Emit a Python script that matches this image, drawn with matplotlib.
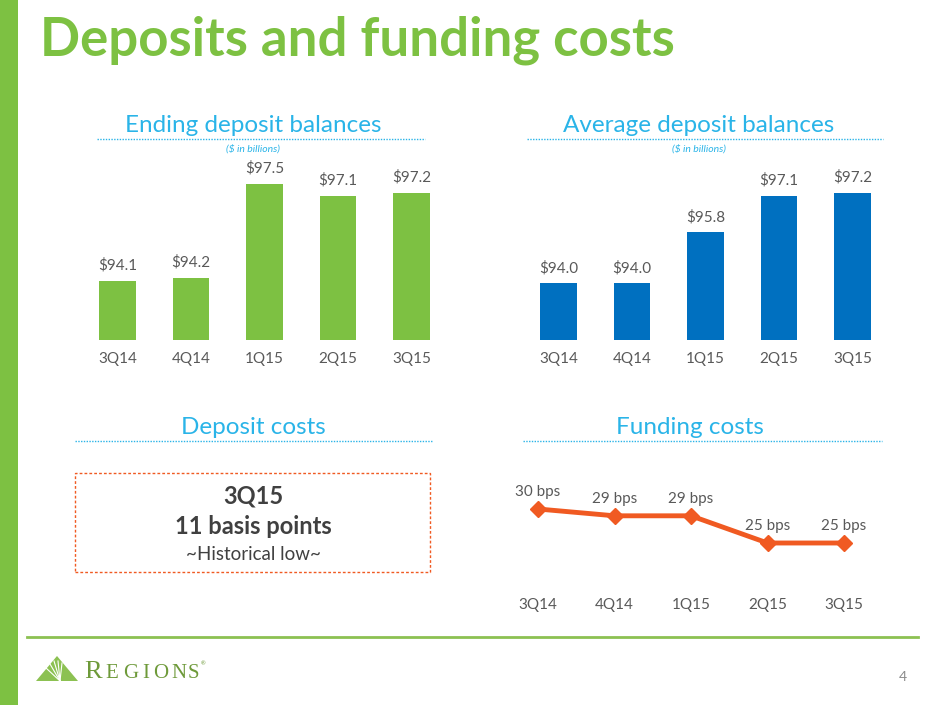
import matplotlib
matplotlib.use("Agg")
import matplotlib.pyplot as plt
from matplotlib.lines import Line2D
from matplotlib.patches import Rectangle, Polygon
import numpy as np

quarters = ["3Q14", "4Q14", "1Q15", "2Q15", "3Q15"]
ending_balances = [94.1, 94.2, 97.5, 97.1, 97.2]
average_balances = [94.0, 94.0, 95.8, 97.1, 97.2]
funding_bps = [30, 29, 29, 25, 25]

W, H = 940, 705
GREEN = "#7dc142"
BLUE = "#0070c0"
CYAN = "#2ab4e8"
ORANGE = "#f05a22"
GRAY = "#595959"
DARK = "#404040"
LOGO = "#6e9a3a"

plt.rcParams['font.family'] = ['Lato', 'DejaVu Sans']

fig = plt.figure(figsize=(W / 100, H / 100), dpi=100)


def fx(x):
    return x / W


def fy(y):
    return 1 - y / H


def pix_axes(left, top, right, bottom):
    return fig.add_axes([fx(left), fy(bottom), (right - left) / W, (bottom - top) / H])


def clean(ax):
    for s in ax.spines.values():
        s.set_visible(False)
    ax.set_yticks([])
    ax.tick_params(axis="x", length=0, pad=9, labelsize=11, labelcolor=GRAY)


# side bar and title
fig.add_artist(Rectangle((0, 0), fx(18), 1, transform=fig.transFigure, color=GREEN, lw=0))
fig.text(fx(40), fy(40), "Deposits and funding costs", fontsize=38, fontweight="bold",
         color=GREEN, va="center", ha="left")


def header(cx, cy, x0, x1, text, sub=None):
    fig.text(fx(cx), fy(cy), text, fontsize=17.5, color=CYAN, ha="center", va="center")
    fig.add_artist(Line2D([fx(x0), fx(x1)], [fy(cy + 13), fy(cy + 13)], transform=fig.transFigure,
                          color=CYAN, lw=1, linestyle=(0, (1, 1))))
    if sub:
        fig.text(fx(cx), fy(cy + 23), sub, fontsize=7.5, style="italic", color=CYAN,
                 ha="center", va="center")


header(253, 126, 97, 425, "Ending deposit balances", "($ in billions)")
header(699, 126, 527, 883, "Average deposit balances", "($ in billions)")
header(253, 428, 75, 432, "Deposit costs")
header(690, 428, 523, 882, "Funding costs")

# bar charts
x = np.arange(len(quarters))
for left, vals, col in [(81.0, ending_balances, GREEN), (522.0, average_balances, BLUE)]:
    ax = pix_axes(left, 170, left + 367, 340)
    ax.bar(x, vals, width=0.5, color=col)
    ax.set_xlim(-0.5, 4.5)
    ax.set_ylim(92.0, 98.0)
    ax.set_xticks(x)
    ax.set_xticklabels(quarters)
    clean(ax)
    for xi, v in zip(x, vals):
        ax.annotate("$%.1f" % v, (xi, v), xytext=(0, 6), textcoords="offset points",
                    ha="center", va="bottom", fontsize=11, color=GRAY)

# deposit costs box
fig.add_artist(Rectangle((fx(75), fy(572)), (430 - 75) / W, (572 - 473) / H,
                         transform=fig.transFigure, fill=False, edgecolor=ORANGE,
                         lw=1, linestyle=(0, (2, 1.5))))
fig.text(fx(253), fy(496), "3Q15", fontsize=17, fontweight="bold", color=DARK, ha="center", va="center")
fig.text(fx(253), fy(526), "11 basis points", fontsize=17, fontweight="bold", color=DARK,
         ha="center", va="center")
fig.text(fx(253), fy(554), "~Historical low~", fontsize=13.5, color=DARK, ha="center", va="center")

# funding costs line
ax = pix_axes(499.75, 495.4, 882.25, 577)
ax.plot(x, funding_bps, color=ORANGE, lw=3.5, marker="D", markersize=8)
ax.set_xlim(-0.5, 4.5)
ax.set_ylim(20, 32)
ax.set_xticks(x)
ax.set_xticklabels(quarters)
clean(ax)
ax.tick_params(axis="x", pad=15)
for xi, v in zip(x, funding_bps):
    ax.annotate("%d bps" % v, (xi, v), xytext=(0, 7), textcoords="offset points",
                ha="center", va="bottom", fontsize=11, color=GRAY)

# footer
fig.add_artist(Line2D([fx(27), fx(918)], [fy(637), fy(637)], transform=fig.transFigure,
                      color="#8cc152", lw=2))
fig.add_artist(Polygon([[fx(36), fy(681)], [fx(57), fy(656)], [fx(78), fy(681)]],
                       closed=True, transform=fig.transFigure, color="#8cc152", lw=0))
for ex, ey in [(46, 668), (50, 664), (54, 661), (58, 661), (62, 663)]:
    fig.add_artist(Line2D([fx(60), fx(ex)], [fy(681), fy(ey)], transform=fig.transFigure,
                          color="white", lw=0.8))
fig.text(fx(93), fy(672), "R", family="Liberation Serif", fontsize=19, color=LOGO,
         ha="center", va="center")
for ch, cx in zip("EGIONS", [112, 131, 146, 161, 179, 193]):
    fig.text(fx(cx), fy(674), ch, family="Liberation Serif", fontsize=15, color=LOGO,
             ha="center", va="center")
fig.text(fx(201), fy(664), "®", fontsize=4, color=LOGO, ha="left", va="center")
fig.text(fx(903), fy(677), "4", fontsize=10, color="#8c8c8c", ha="center", va="center")

fig.savefig("out.png", dpi=100)
